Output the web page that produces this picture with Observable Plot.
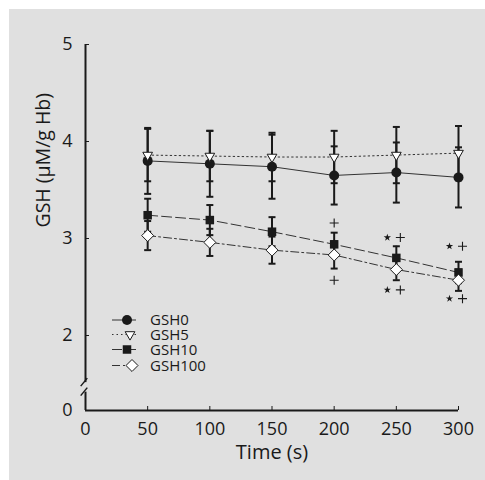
<!DOCTYPE html>
<html><head><meta charset="utf-8">
<script src="https://cdn.jsdelivr.net/npm/d3@7"></script>
<script src="https://cdn.jsdelivr.net/npm/@observablehq/plot@0.6"></script>
<style>
body{margin:0;background:#fff;}
#wrap{position:relative;width:485px;height:480px;overflow:hidden;}
#bg{position:absolute;left:9px;top:9px;right:0;bottom:0;background:#e0e0e0;}
#chart{position:absolute;left:0;top:0;}
</style></head><body>
<div id="wrap"><div id="bg"></div><div id="chart"></div></div>
<script>
// ---- data ----
const times = [50, 100, 150, 200, 250, 300];
const seriesNames = ["GSH0", "GSH5", "GSH10", "GSH100"];
const gsh0 = [3.80, 3.77, 3.74, 3.65, 3.68, 3.63];
const gsh0Err = [0.34, 0.34, 0.33, 0.30, 0.31, 0.31];
const gsh5 = [3.86, 3.85, 3.84, 3.84, 3.86, 3.88];
const gsh5Err = [0.27, 0.26, 0.25, 0.27, 0.29, 0.28];
const gsh10 = [3.24, 3.19, 3.07, 2.94, 2.80, 2.65];
const gsh10Err = [0.17, 0.155, 0.15, 0.12, 0.12, 0.11];
const gsh100 = [3.03, 2.96, 2.88, 2.83, 2.68, 2.57];
const gsh100Err = [0.15, 0.14, 0.14, 0.14, 0.11, 0.11];
const xTicks = [0, 50, 100, 150, 200, 250, 300];
const yTicks = [0, 2, 3, 4, 5];
// significance marks (+ alone, and * + pairs)
const plusX = [200, 200];
const plusY = [3.16, 2.57];
const pairX = [250, 250, 300, 300];
const pairY = [3.01, 2.47, 2.92, 2.38];
const axisBreakAt = 0.61;

// ---- build table ----
const values = [gsh0, gsh5, gsh10, gsh100];
const errs = [gsh0Err, gsh5Err, gsh10Err, gsh100Err];
const rows = [];
seriesNames.forEach((s, si) => times.forEach((t, i) => rows.push({series: s, t, v: values[si][i], e: errs[si][i]})));
const bySeries = s => rows.filter(d => d.series === s);

const font = "'Open Sans', Lato, sans-serif";
const ink = "#1a1a1a";
const bgc = "#e0e0e0";
const downTriangle = {draw(ctx, size) {
  const y = Math.sqrt(size / (Math.sqrt(3) * 3));
  ctx.moveTo(0, 2 * y); ctx.lineTo(-Math.sqrt(3) * y, -y); ctx.lineTo(Math.sqrt(3) * y, -y); ctx.closePath();
}};
const capSymbol = {draw(ctx, size) {
  const w = Math.sqrt(size / Math.PI);
  ctx.moveTo(-w, 0); ctx.lineTo(w, 0);
}};
const plusSymbol = {draw(ctx, size) {
  const w = Math.sqrt(size / Math.PI);
  ctx.moveTo(-w, 0); ctx.lineTo(w, 0); ctx.moveTo(0, -w); ctx.lineTo(0, w);
}};
const styles = {
  GSH0:   {dash: null,        symbol: "circle",     r: 5,   fill: ink},
  GSH5:   {dash: "1.5,3",     symbol: downTriangle, r: 3.6, fill: "#fff"},
  GSH10:  {dash: "10,4",      symbol: "square",     r: 4.8, fill: ink},
  GSH100: {dash: "8,3,2,3",   symbol: "diamond2",   r: 5.4, fill: "#fff"}
};

const marks = [];
for (const s of seriesNames) {
  marks.push(Plot.line(bySeries(s), {x: "t", y: "v", stroke: "#333", strokeWidth: 1, strokeDasharray: styles[s].dash}));
}
for (const s of seriesNames) {
  const data = bySeries(s);
  marks.push(Plot.ruleX(data, {x: "t", y1: d => d.v - d.e, y2: d => d.v + d.e, stroke: ink, strokeWidth: 2}));
  marks.push(Plot.dot(data, {x: "t", y: d => d.v + d.e, symbol: capSymbol, r: 3.5, stroke: ink, strokeWidth: 2, fill: "none"}));
  marks.push(Plot.dot(data, {x: "t", y: d => d.v - d.e, symbol: capSymbol, r: 3.5, stroke: ink, strokeWidth: 2, fill: "none"}));
}
for (const s of seriesNames) {
  const st = styles[s];
  marks.push(Plot.dot(bySeries(s), {x: "t", y: "v", symbol: st.symbol, r: st.r, fill: st.fill,
    stroke: st.fill === "#fff" ? ink : "none", strokeWidth: 1}));
}
// significance annotations
const plusPts = plusX.map((x, i) => ({x, y: plusY[i]}));
const pairPts = pairX.map((x, i) => ({x, y: pairY[i]}));
marks.push(Plot.dot(plusPts, {x: "x", y: "y", symbol: plusSymbol, r: 4.5, stroke: ink, strokeWidth: 1.1, fill: "none"}));
marks.push(Plot.dot(pairPts, {x: "x", y: "y", dx: 4, symbol: plusSymbol, r: 4.5, stroke: ink, strokeWidth: 1.1, fill: "none"}));
marks.push(Plot.dot(pairPts, {x: "x", y: "y", dx: -9, symbol: "star", r: 2.3, fill: ink, stroke: "none"}));

// axes
marks.push(Plot.ruleY([0], {stroke: ink, strokeWidth: 2}));
marks.push(Plot.ruleX([0], {stroke: ink, strokeWidth: 2}));
marks.push(Plot.axisX({ticks: xTicks, tickSize: -4, tickPadding: 16, fontSize: 18, label: null, fontFamily: font, color: ink, tickFormat: d3.format("d")}));
marks.push(Plot.axisY({ticks: yTicks, tickSize: -4, tickPadding: 17, fontSize: 18, label: null, fontFamily: font, color: ink, tickFormat: d3.format("d")}));
marks.push(Plot.text(["Time (s)"], {frameAnchor: "bottom", dy: 48, fontSize: 20, fill: ink, fontFamily: font}));
marks.push(Plot.text(["GSH (\u00B5M/g Hb)"], {frameAnchor: "left", dx: -42, rotate: -90, fontSize: 19.5, fill: ink, fontFamily: font}));

// axis break + legend
marks.push((index, scales) => {
  const g = d3.create("svg:g");
  const x0 = scales.x(0), yb = scales.y(axisBreakAt);
  g.append("rect").attr("x", x0 - 3).attr("y", yb - 5).attr("width", 6).attr("height", 9.5).attr("fill", bgc);
  for (const off of [-5, 4.5]) {
    g.append("line").attr("x1", x0 - 4.3).attr("y1", yb + off + 4).attr("x2", x0 + 2.3).attr("y2", yb + off - 4)
      .attr("stroke", ink).attr("stroke-width", 1.5);
  }
  const lx = x0 + 27, rowY = [320, 334.5, 349.5, 365.5], symX = [127, 130, 127, 132];
  seriesNames.forEach((s, i) => {
    const st = styles[s], y = rowY[i];
    g.append("line").attr("x1", lx).attr("x2", lx + 24).attr("y1", y).attr("y2", y)
      .attr("stroke", "#333").attr("stroke-width", 1).attr("stroke-dasharray", st.dash);
    const sym = typeof st.symbol === "string" ? ({circle: d3.symbolCircle, square: d3.symbolSquare, diamond2: d3.symbolDiamond2})[st.symbol] : st.symbol;
    g.append("path").attr("d", d3.symbol(sym, st.r * st.r * Math.PI)()).attr("transform", `translate(${symX[i]},${y})`)
      .attr("fill", st.fill).attr("stroke", st.fill === "#fff" ? ink : "none");
    g.append("text").attr("x", 150).attr("y", y).attr("dy", "0.36em").attr("font-size", 15)
      .attr("text-anchor", "start").attr("font-family", font).attr("fill", ink).text(s);
  });
  return g.node();
});

const chart = Plot.plot({
  width: 485, height: 480,
  marginTop: 44, marginBottom: 70, marginLeft: 85, marginRight: 27,
  style: {background: "transparent", fontFamily: font, color: ink},
  x: {domain: [0, 300]},
  y: {type: "linear", domain: [0, 2, 5], range: [410, 335, 44]},
  marks
});
document.getElementById("chart").append(chart);
</script>
</body></html>
